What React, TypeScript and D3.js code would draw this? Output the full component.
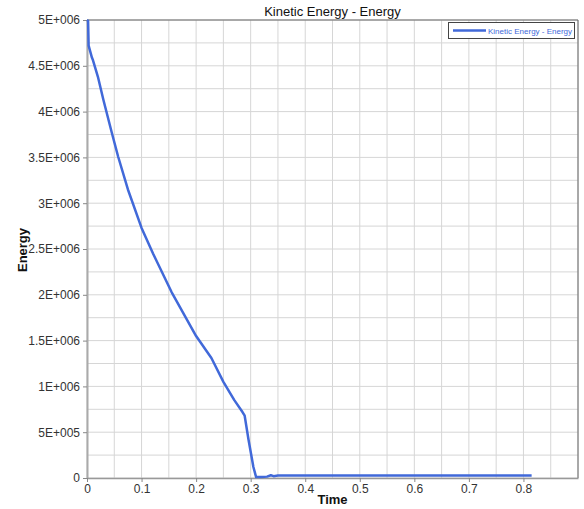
import React, { useEffect, useRef } from "react";
import * as d3 from "d3";

// Kinetic energy history
const times = [
  0, 0.002, 0.003, 0.009, 0.011, 0.02, 0.03, 0.045, 0.057, 0.075, 0.1, 0.121,
  0.155, 0.2, 0.228, 0.25, 0.27, 0.285, 0.289, 0.296, 0.305, 0.31, 0.32, 0.33,
  0.337, 0.342, 0.35, 0.5, 0.65, 0.815,
];
const energy = [
  5.0e6, 4.99e6, 4.72e6, 4.59e6, 4.56e6, 4.38e6, 4.13e6, 3.78e6, 3.51e6,
  3.15e6, 2.73e6, 2.45e6, 2.03e6, 1.55e6, 1.31e6, 1.05e6, 0.85e6, 0.72e6,
  0.68e6, 0.42e6, 0.12e6, 0.01e6, 0.01e6, 0.015e6, 0.03e6, 0.02e6, 0.027e6,
  0.027e6, 0.027e6, 0.027e6,
];
const xTicks = [0, 0.1, 0.2, 0.3, 0.4, 0.5, 0.6, 0.7, 0.8];
const yTicks = [0, 5e5, 1e6, 1.5e6, 2e6, 2.5e6, 3e6, 3.5e6, 4e6, 4.5e6, 5e6];
const yTickLabels = [
  "0", "5E+005", "1E+006", "1.5E+006", "2E+006", "2.5E+006",
  "3E+006", "3.5E+006", "4E+006", "4.5E+006", "5E+006",
];
const seriesName = "Kinetic Energy - Energy";

const App = () => {
  const ref = useRef<SVGSVGElement>(null);

  useEffect(() => {
    const svg = d3.select(ref.current);
    svg.selectAll("*").remove();

    const left = 87, right = 578, top = 20, bottom = 478;
    const x = d3.scaleLinear().domain([0, 0.9]).range([left, right]);
    const y = d3.scaleLinear().domain([0, 5e6]).range([bottom, top]);
    const font = "Arial, 'Liberation Sans', sans-serif";

    // grid
    const xGrid = d3.range(0, 0.9001, 0.05);
    const yGrid = d3.range(0, 5e6 + 1, 2.5e5);
    svg.append("g").selectAll("line").data(xGrid).enter().append("line")
      .attr("x1", (d) => x(d)).attr("x2", (d) => x(d))
      .attr("y1", top).attr("y2", bottom)
      .attr("stroke", "#d6d6d6").attr("stroke-width", 1);
    svg.append("g").selectAll("line").data(yGrid).enter().append("line")
      .attr("x1", left).attr("x2", right)
      .attr("y1", (d) => y(d)).attr("y2", (d) => y(d))
      .attr("stroke", "#d6d6d6").attr("stroke-width", 1);

    // frame
    svg.append("line").attr("x1", left).attr("x2", right).attr("y1", top).attr("y2", top)
      .attr("stroke", "#666").attr("stroke-width", 1);
    svg.append("line").attr("x1", right).attr("x2", right).attr("y1", top).attr("y2", bottom)
      .attr("stroke", "#666").attr("stroke-width", 1);

    // axes
    const yAxis = svg.append("g").attr("transform", `translate(${left},0)`)
      .call(d3.axisLeft(y).tickValues(yTicks).tickSize(4).tickSizeOuter(0)
        .tickFormat((d, i) => yTickLabels[i]));
    yAxis.select(".domain").attr("stroke", "#aaa").attr("stroke-width", 2);
    yAxis.selectAll(".tick line").attr("stroke", "#888");
    yAxis.selectAll("text").attr("fill", "#333").attr("font-size", 12)
      .attr("font-family", font);

    const xAxis = svg.append("g").attr("transform", `translate(0,${bottom})`)
      .call(d3.axisBottom(x).tickValues(xTicks).tickSize(4).tickPadding(2).tickSizeOuter(0)
        .tickFormat(d3.format("")));
    xAxis.select(".domain").attr("stroke", "#999").attr("stroke-width", 1.5);
    xAxis.selectAll(".tick line").attr("stroke", "#888");
    xAxis.selectAll("text").attr("fill", "#333").attr("font-size", 12)
      .attr("font-family", font);

    // curve
    const line = d3.line<number>()
      .x((d, i) => x(times[i]))
      .y((d) => y(d));
    svg.append("path").datum(energy)
      .attr("d", line)
      .attr("fill", "none")
      .attr("stroke", "#4169d9")
      .attr("stroke-width", 2.5)
      .attr("stroke-linejoin", "round");

    // title and labels
    svg.append("text").attr("x", (left + right) / 2).attr("y", 16)
      .attr("text-anchor", "middle").attr("font-size", 13)
      .attr("font-family", font).attr("fill", "#111").text(seriesName);
    svg.append("text").attr("x", (left + right) / 2).attr("y", 504)
      .attr("text-anchor", "middle").attr("font-size", 13).attr("font-weight", "bold")
      .attr("font-family", font).attr("fill", "#111").text("Time");
    svg.append("text").attr("transform", `translate(27,250) rotate(-90)`)
      .attr("text-anchor", "middle").attr("font-size", 13).attr("font-weight", "bold")
      .attr("font-family", font).attr("fill", "#111").text("Energy");

    // legend
    const lg = svg.append("g");
    lg.append("rect").attr("x", 448.5).attr("y", 22.5).attr("width", 126).attr("height", 16)
      .attr("fill", "#fff").attr("stroke", "#444").attr("stroke-width", 1);
    lg.append("line").attr("x1", 453).attr("x2", 486).attr("y1", 30.5).attr("y2", 30.5)
      .attr("stroke", "#4169d9").attr("stroke-width", 2.5);
    lg.append("text").attr("x", 488).attr("y", 33.5).attr("font-size", 8)
      .attr("font-family", font).attr("fill", "#4169d9").text(seriesName);
  }, []);

  return (
    <svg ref={ref} width={584} height={509}
      style={{ position: "absolute", left: 0, top: 0, background: "#fff" }} />
  );
};

export default App;
